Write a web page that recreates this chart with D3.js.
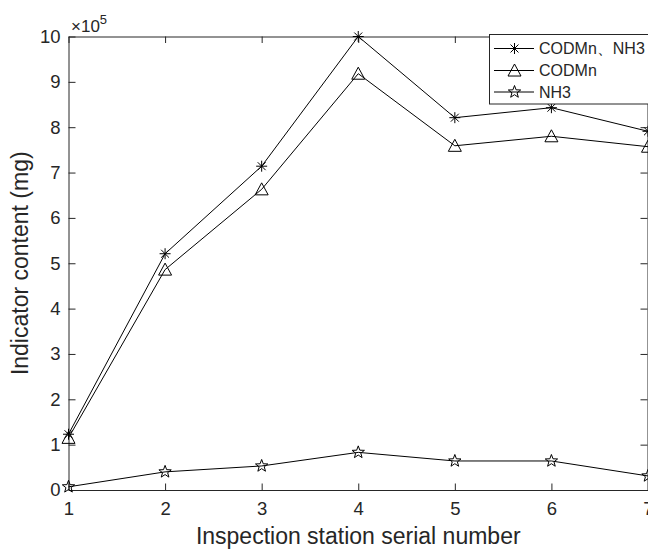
<!DOCTYPE html>
<html><head><meta charset="utf-8">
<script src="https://cdn.jsdelivr.net/npm/d3@7/dist/d3.min.js"></script>
<style>body{margin:0;background:#fff}svg{display:block}text{font-family:"Liberation Sans",Arial,sans-serif;fill:#262626}</style>
</head><body><svg id="c" width="648" height="549"></svg>
<script>
const stations = [1, 2, 3, 4, 5, 6, 7];
const seriesNames = ["CODMn、NH3", "CODMn", "NH3"];
const combined = [1.23, 5.21, 7.14, 10.0, 8.21, 8.43, 7.91];
const codmn = [1.15, 4.86, 6.63, 9.18, 7.59, 7.80, 7.57];
const nh3 = [0.07, 0.40, 0.53, 0.83, 0.64, 0.64, 0.31];
const yTicks = [0, 1, 2, 3, 4, 5, 6, 7, 8, 9, 10];
const xTicks = [1, 2, 3, 4, 5, 6, 7];

const svg = d3.select("#c");
const L = 68.5, R = 648, T = 36.5, B = 490;
const x = d3.scaleLinear().domain([1, 7]).range([L, R]);
const y = d3.scaleLinear().domain([0, 10]).range([B, T]);
const axisColor = "#262626";

// axes
const gx = svg.append("g").attr("transform", `translate(0,${B})`)
  .call(d3.axisBottom(x).tickValues(xTicks).tickSizeInner(-6.5).tickSizeOuter(0).tickPadding(12).tickFormat(d3.format("d")));
const gxt = svg.append("g").attr("transform", `translate(0,${T})`)
  .call(d3.axisTop(x).tickValues(xTicks).tickSizeInner(-6.5).tickSizeOuter(0).tickFormat(""));
const gy = svg.append("g").attr("transform", `translate(${L},0)`)
  .call(d3.axisLeft(y).tickValues(yTicks).tickSizeInner(-7).tickSizeOuter(0).tickPadding(8).tickFormat(d3.format("d")));
const gyr = svg.append("g").attr("transform", `translate(${R - 0.5},0)`)
  .call(d3.axisRight(y).tickValues(yTicks).tickSizeInner(-7).tickSizeOuter(0).tickFormat(""));
[gx, gxt, gy, gyr].forEach(g => {
  g.selectAll("path").attr("stroke", axisColor).attr("stroke-width", 1);
  g.selectAll("line").attr("stroke", axisColor).attr("stroke-width", 1);
  g.selectAll("text").attr("fill", axisColor).style("font-size", "18.5px").style("font-family", '"Liberation Sans",Arial,sans-serif');
});
gx.selectAll("text").attr("dy", "0.71em");

// exponent label
const ex = svg.append("text").attr("x", 71).attr("y", 32).style("font-size", "17px");
ex.append("tspan").text("×10");
ex.append("tspan").attr("dy", -8).style("font-size", "13px").text("5");

// axis titles
svg.append("text").attr("x", (L + R) / 2).attr("y", 543.5).attr("text-anchor", "middle")
  .style("font-size", "23px").text("Inspection station serial number");
svg.append("text").attr("transform", `translate(28,${(T + B) / 2}) rotate(-90)`).attr("text-anchor", "middle")
  .style("font-size", "23px").text("Indicator content (mg)");

// markers
function asterisk(g, cx, cy) {
  const r = 5.5, d = r * 0.72;
  const p = `M${cx - r},${cy}L${cx + r},${cy}M${cx},${cy - r}L${cx},${cy + r}M${cx - d},${cy - d}L${cx + d},${cy + d}M${cx - d},${cy + d}L${cx + d},${cy - d}`;
  g.append("path").attr("d", p).attr("stroke", "#000").attr("stroke-width", 1).attr("fill", "none");
}
function triangle(g, cx, cy) {
  const s = 6.5;
  g.append("path").attr("d", `M${cx},${cy - s}L${cx + s},${cy + s * 0.85}L${cx - s},${cy + s * 0.85}Z`)
    .attr("stroke", "#000").attr("stroke-width", 1).attr("fill", "none");
}
function star(g, cx, cy) {
  const ro = 6.5, ri = 2.7;
  const pts = [];
  for (let i = 0; i < 10; i++) {
    const a = -Math.PI / 2 + i * Math.PI / 5;
    const r = i % 2 === 0 ? ro : ri;
    pts.push([cx + r * Math.cos(a), cy + r * Math.sin(a)]);
  }
  g.append("path").attr("d", "M" + pts.map(p => p.join(",")).join("L") + "Z")
    .attr("stroke", "#000").attr("stroke-width", 1).attr("fill", "none");
}
const series = [
  { name: seriesNames[0], values: combined, marker: asterisk },
  { name: seriesNames[1], values: codmn, marker: triangle },
  { name: seriesNames[2], values: nh3, marker: star }
];
const line = d3.line().x((d, i) => x(stations[i])).y(d => y(d));
const plot = svg.append("g");
series.forEach(s => {
  plot.append("path").datum(s.values).attr("d", line).attr("fill", "none").attr("stroke", "#000").attr("stroke-width", 1);
  s.values.forEach((v, i) => s.marker(plot, x(stations[i]), y(v)));
});

// legend
const lg = svg.append("g");
lg.append("rect").attr("x", 489.5).attr("y", 34.5).attr("width", 180).attr("height", 69.5)
  .attr("fill", "#fff").attr("stroke", axisColor).attr("stroke-width", 1);
const rowY = [48.5, 70.5, 92];
series.forEach((s, i) => {
  lg.append("line").attr("x1", 494).attr("x2", 534).attr("y1", rowY[i]).attr("y2", rowY[i]).attr("stroke", "#000").attr("stroke-width", 1);
  s.marker(lg, 514.5, rowY[i]);
  lg.append("text").attr("x", 539).attr("y", rowY[i]).attr("dy", "0.36em").style("font-size", "16px").attr("fill", "#000").text(s.name);
});
</script></body></html>
